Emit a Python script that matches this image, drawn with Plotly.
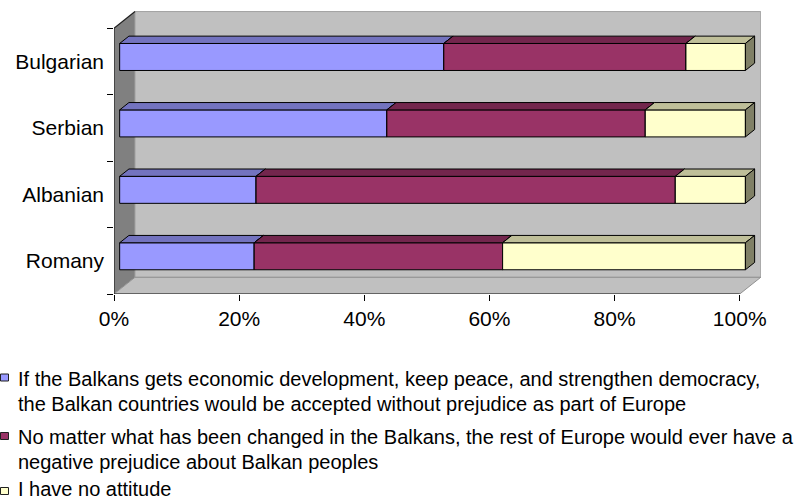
import plotly.graph_objects as go

# Survey answers by ethnic group (percent of respondents)
groups = ["Romany", "Albanian", "Serbian", "Bulgarian"]
accepted = [21.5, 21.8, 42.7, 51.8]
prejudice = [39.7, 67.0, 41.3, 38.7]
no_attitude = [38.8, 11.2, 16.0, 9.5]

series_names = [
    "If the Balkans gets economic development, keep peace, and strengthen democracy,"
    "<br>the Balkan countries would be accepted without prejudice as part of Europe",
    "No matter what has been changed in the Balkans, the rest of Europe would ever have a"
    "<br>negative prejudice about Balkan peoples",
    "I have no attitude",
]
x_ticks = [0, 20, 40, 60, 80, 100]
x_tick_text = ["0%", "20%", "40%", "60%", "80%", "100%"]

front_colors = ["#9999FF", "#993366", "#FFFFCC"]
top_colors = ["#7373BF", "#73264D", "#BFBF99"]
side_colors = ["#4D4D80", "#4D1A33", "#808066"]

FONT = "Liberation Sans, Arial, sans-serif"

# Axis extents and the oblique depth vector of the 3-D box (in data units)
X_MAX = 103.4
Y_MIN, Y_MAX = -0.5, 3.76
DX, DY = 3.356, 0.2514
BAR_FRONT = 0.27   # depth fraction where the bar fronts sit
BAR_DEPTH = 0.44   # depth fraction taken by the bars
HALF = 0.2032      # half height of a bar front

fig = go.Figure()


def poly(xs, ys, fill, line_color="black", width=1.0, name=None, text=None):
    return go.Scatter(
        x=xs, y=ys, mode="lines", fill="toself", fillcolor=fill,
        line=dict(color=line_color, width=width), name=name,
        showlegend=False, hoverinfo="skip" if text is None else "text",
        hoveron="fills", text=text,
    )


# Walls and floor
fig.add_trace(poly([0, DX, DX, 0, 0], [Y_MIN, Y_MIN + DY, 3.5 + DY, 3.5, Y_MIN],
                   "#808080", line_color="rgba(0,0,0,0)", width=0))
fig.add_trace(poly([DX, 100 + DX, 100 + DX, DX, DX],
                   [Y_MIN + DY, Y_MIN + DY, 3.5 + DY, 3.5 + DY, Y_MIN + DY],
                   "#C0C0C0", line_color="#A0A0A0", width=1))
fig.add_trace(poly([0, 100, 100 + DX, DX, 0], [Y_MIN, Y_MIN, Y_MIN + DY, Y_MIN + DY, Y_MIN],
                   "#C0C0C0", line_color="#909090", width=1))
# dark edges of the side wall and front floor edge
fig.add_trace(go.Scatter(x=[DX, 0, 0, 100], y=[3.5 + DY, 3.5, Y_MIN, Y_MIN], mode="lines",
                         line=dict(color="#202020", width=1.2), hoverinfo="skip",
                         showlegend=False))

# Stacked 3-D bars
series = [accepted, prejudice, no_attitude]
xo = BAR_FRONT * DX
yo = BAR_FRONT * DY
bdx = BAR_DEPTH * DX
bdy = BAR_DEPTH * DY
cum = [0.0] * len(groups)
for k, vals in enumerate(series):
    fx, fy, tx, ty, sx, sy = [], [], [], [], [], []
    for i, v in enumerate(vals):
        a = cum[i] + xo
        b = cum[i] + v + xo
        yb = i + yo - HALF
        yt = i + yo + HALF
        fx += [a, b, b, a, a, None]
        fy += [yb, yb, yt, yt, yb, None]
        tx += [a, b, b + bdx, a + bdx, a, None]
        ty += [yt, yt, yt + bdy, yt + bdy, yt, None]
        sx += [b, b + bdx, b + bdx, b, b, None]
        sy += [yb, yb + bdy, yt + bdy, yt, yb, None]
        cum[i] += v
    fig.add_trace(poly(fx, fy, front_colors[k],
                       text=f"{series_names[k].split('<br>')[0]}"))
    fig.add_trace(poly(tx, ty, top_colors[k]))
    fig.add_trace(poly(sx, sy, side_colors[k]))

# Legend drawn below the plot
L, T, W, H = 114, 11, 647, 283


def px_x(p):
    return (p - L) / W


def px_y(p):
    return (T + H - p) / H


legend_rows = [
    (series_names[0].split("<br>"), 377.5, [379, 403.5]),
    (series_names[1].split("<br>"), 436.0, [437, 461.5]),
    (series_names[2].split("<br>"), 491.0, [488.8]),
]
shapes = []
annotations = []
for k, (lines, sq_mid, line_mids) in enumerate(legend_rows):
    shapes.append(dict(type="rect", xref="paper", yref="paper",
                       x0=px_x(0.5), x1=px_x(8.5), y0=px_y(sq_mid + 3.5), y1=px_y(sq_mid - 3.5),
                       fillcolor=front_colors[k], line=dict(color="#202020", width=1)))
    for txt, mid in zip(lines, line_mids):
        annotations.append(dict(xref="paper", yref="paper", x=px_x(16), y=px_y(mid),
                                xanchor="left", yanchor="middle", text=txt, showarrow=False,
                                font=dict(family=FONT, size=20, color="black")))

fig.update_layout(
    width=798, height=502, autosize=False,
    margin=dict(l=L, r=798 - L - W, t=T, b=502 - T - H, pad=0),
    paper_bgcolor="white", plot_bgcolor="white",
    showlegend=False,
    font=dict(family=FONT, size=21, color="black"),
    xaxis=dict(range=[0, X_MAX], tickvals=x_ticks, ticktext=x_tick_text,
               ticks="outside", ticklen=6, tickcolor="black", tickwidth=1,
               showgrid=False, zeroline=False, showline=False, fixedrange=True,
               tickfont=dict(family=FONT, size=21, color="black")),
    yaxis=dict(range=[Y_MIN, Y_MAX], tickvals=list(range(len(groups))), ticktext=groups,
               ticks="", showgrid=False, zeroline=False, showline=False, fixedrange=True,
               ticklabelstandoff=9,
               minor=dict(tickvals=[-0.5, 0.5, 1.5, 2.5, 3.5], ticks="outside", ticklen=6,
                          tickcolor="black", tickwidth=1, showgrid=False),
               tickfont=dict(family=FONT, size=21, color="black")),
    shapes=shapes,
    annotations=annotations,
)

fig.write_html("out.html")
